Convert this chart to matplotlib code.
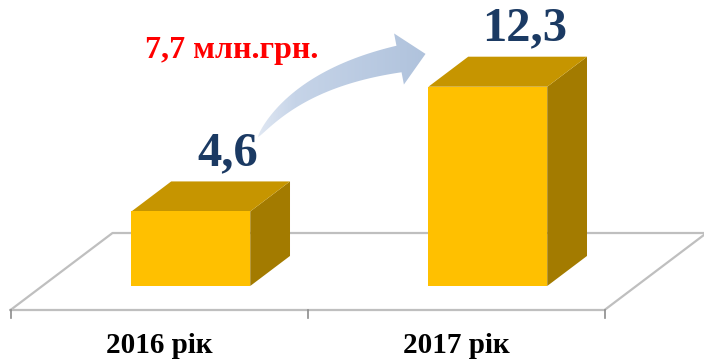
import matplotlib.pyplot as plt
import numpy as np
from matplotlib.patches import Polygon
from matplotlib.colors import LinearSegmentedColormap

plt.rcParams['font.family'] = ['Liberation Serif', 'DejaVu Serif']

years = ['2016 рік', '2017 рік']
values = [4.6, 12.3]
value_labels = ['4,6', '12,3']
growth_label = '7,7 млн.грн.'

fig = plt.figure(figsize=(7.04, 3.61), dpi=100)
ax = fig.add_axes([0, 0, 1, 1])
ax.axis('off')

# oblique "3d": depth z in [0, 1] shifts points right and up
DX, DY = 0.3434, 4.753
Z0, DZ = 0.312, 0.39     # bar depth range on the floor
W = 0.4                  # bar width (category units)


def proj(x, z, v):
    return x + z * DX, v + z * DY


n = len(values)

# floor outline
floor = [proj(-0.5, 0, 0), proj(n - 0.5, 0, 0), proj(n - 0.5, 1, 0),
         proj(-0.5, 1, 0), proj(-0.5, 0, 0)]
fx, fy = zip(*floor)
ax.plot(fx, fy, color='#BFBFBF', lw=1.6, zorder=1)
for b in np.arange(n + 1) - 0.5:
    ax.plot([b, b], [0, -0.5], color='#8C8C8C', lw=1.2, zorder=1)

# bars
for i, v in enumerate(values):
    x0, x1 = i - W / 2, i + W / 2
    front = [proj(x0, Z0, 0), proj(x1, Z0, 0), proj(x1, Z0, v), proj(x0, Z0, v)]
    side = [proj(x1, Z0, 0), proj(x1, Z0 + DZ, 0), proj(x1, Z0 + DZ, v), proj(x1, Z0, v)]
    top = [proj(x0, Z0, v), proj(x1, Z0, v), proj(x1, Z0 + DZ, v), proj(x0, Z0 + DZ, v)]
    ax.add_patch(Polygon(side, closed=True, fc='#A37B00', ec='none', zorder=2))
    ax.add_patch(Polygon(top, closed=True, fc='#C69500', ec='none', zorder=2))
    ax.add_patch(Polygon(front, closed=True, fc='#FFC000', ec='none', zorder=3))
    ax.annotate(value_labels[i], xy=proj(i, Z0 + DZ, v), xytext=(-2, 11.5),
                textcoords='offset points', ha='center', va='baseline',
                fontsize=35, fontweight='bold', color='#1B3A63', zorder=5)

# category labels
for i, lab in enumerate(years):
    ax.text(i, -2.65, lab, ha='center', va='baseline', fontsize=21,
            fontweight='bold', color='black')

ax.set_xlim(-0.5354, 1.8350)
ax.set_ylim(-3.148, 19.136)

# overlay in pixel units for the growth arrow
deco = fig.add_axes([0, 0, 1, 1], zorder=3)
deco.patch.set_alpha(0)
deco.axis('off')

P0 = np.array([258.0, 137.0])
C = np.array([300.0, 78.0])
P2 = np.array([399.0, 59.0])
t = np.linspace(0, 1, 60)[:, None]
B = (1 - t) ** 2 * P0 + 2 * (1 - t) * t * C + t ** 2 * P2
dB = 2 * (1 - t) * (C - P0) + 2 * t * (P2 - C)
T = dB / np.linalg.norm(dB, axis=1, keepdims=True)
N = np.column_stack([-T[:, 1], T[:, 0]])
N *= np.sign(N[:, 1:2])
w = 27 * t ** 0.65
upper = B - N * w / 2
lower = B + N * w / 2
te, ne = T[-1], N[-1]
head = [P2 - ne * 26, P2 + te * 27, P2 + ne * 26]
pts = np.vstack([upper, head, lower[::-1]])

arrow = Polygon(pts, closed=True, transform=deco.transData)
cmap = LinearSegmentedColormap.from_list(
    'arr', [(0, '#E6ECF5'), (0.25, '#C6D4E8'), (1, '#AFC2DC')])
grad = np.linspace(0, 1, 256).reshape(1, -1)
im = deco.imshow(grad, extent=(250, 430, 140, 28), cmap=cmap, aspect='auto',
                 interpolation='bilinear', zorder=2)
im.set_clip_path(arrow)

deco.text(232, 58, growth_label, ha='center', va='baseline', fontsize=23,
          fontweight='bold', color='#FF0000')

deco.set_xlim(0, 704)
deco.set_ylim(361, 0)

fig.savefig('out.png', dpi=100)
